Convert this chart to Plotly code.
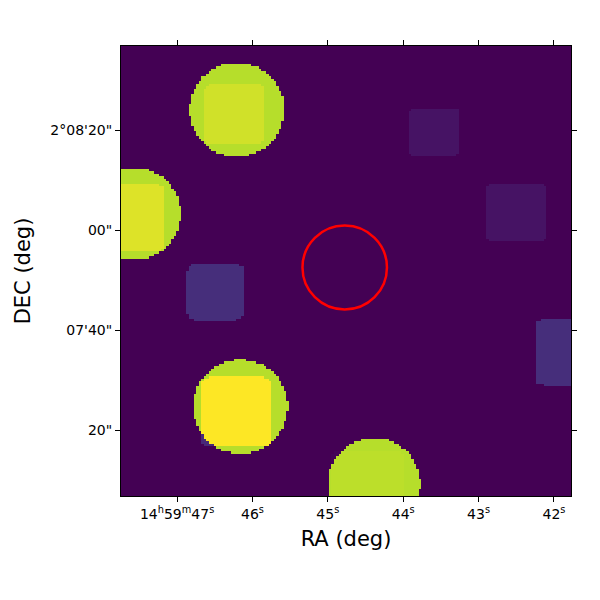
import numpy as np
import plotly.graph_objects as go

# field edges: RA in seconds past 14h59m, DEC in arcsec past +2d07'
ra_left, ra_right = 47.744, 41.774
dec_bottom, dec_top = 66.8, 156.8
npix = 180
arcsec_per_s = 15 * np.cos(np.radians(2.13))

# bright circular sources: RA (s), DEC ("), radius ("), level
circ_ra = [46.210, 47.571, 46.163, 44.390]
circ_dec = [144.1, 123.3, 84.74, 69.26]
circ_r = [9.4, 9.2, 9.4, 9.2]
circ_level = [0.89, 0.89, 0.89, 0.89]

# square patches: RA (s), DEC ("), half side ("), level
sq_ra = [46.243, 47.611, 46.223, 44.477, 46.495, 43.594, 42.502, 41.807]
sq_dec = [143.2, 122.5, 83.6, 68.8, 107.6, 139.6, 123.6, 95.6]
sq_half = [6.0, 6.7, 7.0, 7.2, 5.6, 4.9, 5.9, 6.6]
sq_level = [0.04, 0.06, 0.11, 0.01, 0.13, 0.05, 0.05, 0.13]

# target aperture (red ring)
ap_ra, ap_dec, ap_r = 44.776, 112.5, 8.4

ra_ticks = [47, 46, 45, 44, 43, 42]
ra_labels = ["14<sup>h</sup>59<sup>m</sup>47<sup>s</sup>", "46<sup>s</sup>", "45<sup>s</sup>",
             "44<sup>s</sup>", "43<sup>s</sup>", "42<sup>s</sup>"]
dec_ticks = [80, 100, 120, 140]
dec_labels = ['20"', "07'40\"", '00"', "2°08'20\""]

# pixel grid
step_x = (ra_left - ra_right) / npix
step_y = (dec_top - dec_bottom) / npix
xs = ra_right + step_x * (np.arange(npix) + 0.5)
ys = dec_bottom + step_y * (np.arange(npix) + 0.5)
X, Y = np.meshgrid(xs, ys)

img = np.zeros_like(X)
for ra, dec, r, lv in zip(circ_ra, circ_dec, circ_r, circ_level):
    dx = (X - ra) * arcsec_per_s
    dy = Y - dec
    img[dx**2 + dy**2 <= r**2] += lv
for ra, dec, h, lv in zip(sq_ra, sq_dec, sq_half, sq_level):
    dx = np.abs(X - ra) * arcsec_per_s
    dy = np.abs(Y - dec)
    img[(dx / h)**10 + (dy / h)**10 <= 1] += lv

fig = go.Figure(go.Heatmap(z=img, x=xs, y=ys, colorscale="Viridis", zmin=0, zmax=1,
                           showscale=False, hoverinfo="skip"))

rx = ap_r / arcsec_per_s
fig.add_shape(type="circle", xref="x", yref="y",
              x0=ap_ra - rx, x1=ap_ra + rx, y0=ap_dec - ap_r, y1=ap_dec + ap_r,
              line=dict(color="red", width=2.5))

axis_style = dict(showline=True, linecolor="black", linewidth=1, mirror="ticks",
                  ticks="outside", ticklen=5, tickwidth=1, tickcolor="black",
                  showgrid=False, zeroline=False, automargin=False,
                  tickfont=dict(family="DejaVu Sans", size=14, color="black"))

# margins allow for the 8px page offset of the html body
fig.update_layout(
    width=600, height=600,
    margin=dict(l=113, r=37, t=38, b=112),
    paper_bgcolor="white", plot_bgcolor="white",
    xaxis=dict(range=[ra_left, ra_right], tickvals=ra_ticks, ticktext=ra_labels,
               title=dict(text="RA (deg)", font=dict(family="DejaVu Sans", size=21, color="black"),
                          standoff=10),
               **axis_style),
    yaxis=dict(range=[dec_bottom, dec_top], tickvals=dec_ticks, ticktext=dec_labels,
               title=dict(text="DEC (deg)", font=dict(family="DejaVu Sans", size=21, color="black"),
                          standoff=14),
               **axis_style),
)

fig.write_html("out.html")
